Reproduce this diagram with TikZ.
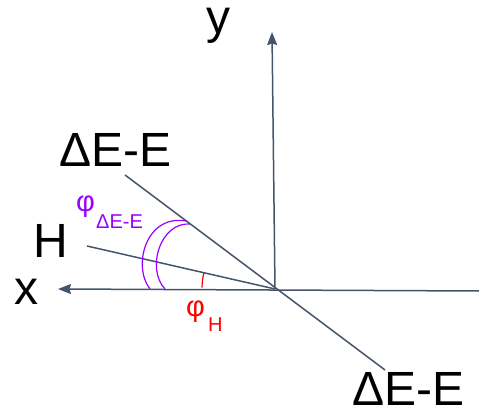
\documentclass[tikz,border=0pt]{standalone}
\usepackage{fontspec}
\setmainfont{Liberation Sans}
\usetikzlibrary{arrows.meta}
\definecolor{axiscol}{HTML}{44546A}
\definecolor{purplecol}{HTML}{9900FF}
\definecolor{redcol}{HTML}{FF0000}
\begin{document}
\begin{tikzpicture}[x=1pt,y=1pt,
  axis/.style={draw=axiscol,line width=1.5pt},
  axisarrow/.style={axis,-{Stealth[length=13pt,width=10pt,inset=1.5pt]}},
  bigtext/.style={inner sep=0pt,font=\fontsize{48}{56}\selectfont},
  phitext/.style={inner sep=0pt,anchor=base west,font=\fontsize{29}{32}\selectfont},
  subtext/.style={inner sep=0pt,anchor=base west,font=\fontsize{20}{24}\selectfont},
  anglearc/.style={line width=1.2pt}]
\useasboundingbox (0,0) rectangle (479,412);
% points
\coordinate (O) at (275,123);
\coordinate (ytip) at (272,380);
\coordinate (xtip) at (58,123);
\coordinate (xright) at (479,121);
\coordinate (DEa) at (125,237);
\coordinate (DEb) at (385,42);
\coordinate (Hend) at (87,166);
% axes
\draw[axisarrow] (O) -- (ytip);
\draw[axisarrow] (xright) -- (xtip);
% lines
\draw[axis] (DEa) -- (DEb);
\draw[axis] (Hend) -- (O);
% purple arcs
\draw[anglearc,draw=purplecol] (150,123) .. controls (132,146) and (146,198) .. (186,191);
\draw[anglearc,draw=purplecol] (165,123) .. controls (146,143) and (160,190) .. (190,188);
% red arc
\draw[anglearc,draw=redcol] ([shift={(179:73)}]O) arc[start angle=179,end angle=167,radius=73];
% labels
\node[bigtext,anchor=base west] (ylab) at (206,378) {y};
\node[bigtext,anchor=base west] (xlab) at (14,107) {x};
\node[bigtext,anchor=base west] (Hlab) at (33,154) {H};
\node[bigtext,anchor=base west] (DEtop) at (59,245) {ΔE-E};
\node[bigtext,anchor=base west] (DEbot) at (352,6) {ΔE-E};
\node[phitext,text=purplecol] (phiDE) at (76,200) {φ};
\node[subtext,text=purplecol] (phiDEsub) at (96,183) {ΔE-E};
\node[phitext,text=redcol] (phiH) at (186,95) {φ};
\node[subtext,text=redcol] (phiHsub) at (208,80) {H};
\end{tikzpicture}
\end{document}
